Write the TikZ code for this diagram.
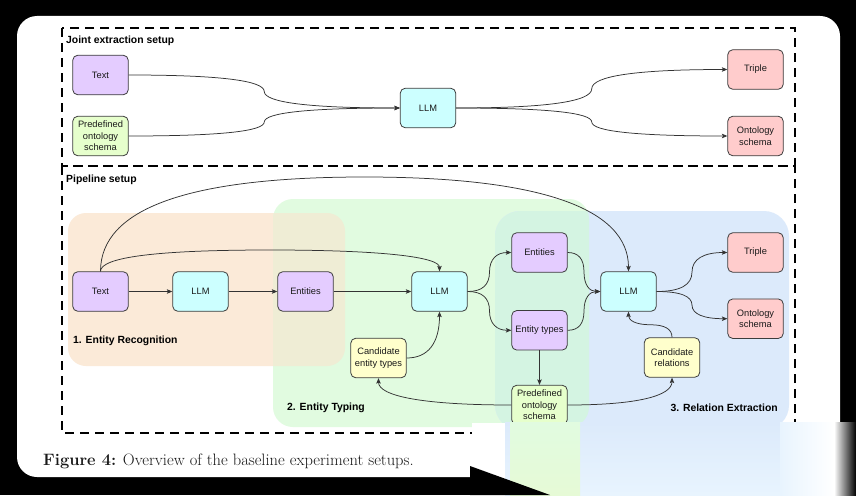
\documentclass[tikz,border=0pt]{standalone}
\usepackage{fontspec}
\newfontfamily\arial{Liberation Sans}
\usetikzlibrary{arrows.meta,calc}
\definecolor{purpF}{HTML}{E4CCFF}
\definecolor{cyanF}{HTML}{CCFFFF}
\definecolor{greenF}{HTML}{E6FFCC}
\definecolor{redF}{HTML}{FFCCCC}
\definecolor{yellF}{HTML}{FFFFCC}
\definecolor{bordC}{HTML}{3C3C3C}
\definecolor{lineC}{HTML}{333333}
\definecolor{textC}{HTML}{1A1A1A}
\definecolor{orangeR}{HTML}{FBEAD8}
\definecolor{greenR}{HTML}{E1FBE0}
\definecolor{blueR}{HTML}{DCEAFB}
\definecolor{ogR}{HTML}{EFEDD5}
\definecolor{gbR}{HTML}{D4F4E2}
\definecolor{smB}{HTML}{E8F4FE}
\definecolor{smG}{HTML}{E6FAD6}
\tikzset{
  box/.style={draw=bordC, line width=0.8pt, rounded corners=5pt, minimum width=55.5pt,
    minimum height=39.5pt, inner sep=1pt, align=center, text=textC,
    font={\arial\fontsize{9.3}{11.4}\selectfont}},
  purp/.style={box, fill=purpF},
  cyanb/.style={box, fill=cyanF},
  greenb/.style={box, fill=greenF},
  redb/.style={box, fill=redF},
  yellb/.style={box, fill=yellF},
  lbl/.style={inner sep=0pt, text=black, font={\arial\bfseries\fontsize{10.4}{12}\selectfont}},
  dashbox/.style={draw=black, line width=1.2pt, dash pattern=on 9pt off 6pt},
  conn/.style={draw=lineC, line width=0.75pt, -{Stealth[length=5.5pt,width=4.5pt,inset=1.2pt]}},
  hvh/.style={to path={let \p1=(\tikztostart), \p2=(\tikztotarget), \n1={(\x1+\x2)/2}, \n2={(\y1+\y2)/2} in
    .. controls ({\x1+2/3*(\n1-\x1)},\y1) and (\n1,{\n2+2/3*(\y1-\n2)}) .. (\n1,\n2)
    .. controls (\n1,{\n2+2/3*(\y2-\n2)}) and ({\x2+2/3*(\n1-\x2)},\y2) .. (\tikztotarget)}},
  vhv/.style={to path={let \p1=(\tikztostart), \p2=(\tikztotarget), \n1={(\x1+\x2)/2}, \n2={#1} in
    .. controls (\x1,{\y1+2/3*(\n2-\y1)}) and ({\n1+2/3*(\x1-\n1)},\n2) .. (\n1,\n2)
    .. controls ({\n1+2/3*(\x2-\n1)},\n2) and (\x2,{\y2+2/3*(\n2-\y2)}) .. (\tikztotarget)}},
  hv/.style={to path={let \p1=(\tikztostart), \p2=(\tikztotarget) in
    .. controls ({\x1+2/3*(\x2-\x1)},\y1) and (\x2,{\y2+2/3*(\y1-\y2)}) .. (\tikztotarget)}},
}
\begin{document}
\begin{tikzpicture}[x=1pt,y=1pt]
\useasboundingbox (0,0) rectangle (856,-495);
\fill[black] (0,0) rectangle (856,-495);
\fill[white, rounded corners=20pt] (17,-16) rectangle (840,-477);

% stage regions
\fill[orangeR, rounded corners=18pt] (68,-213) rectangle (345,-366);
\fill[greenR, rounded corners=20pt] (273,-199) rectangle (589,-427);
\fill[blueR, rounded corners=25pt] (495,-211) rectangle (789,-430);
\begin{scope}
  \clip[rounded corners=18pt] (68,-213) rectangle (345,-366);
  \fill[ogR, rounded corners=20pt] (273,-199) rectangle (589,-427);
\end{scope}
\begin{scope}
  \clip[rounded corners=20pt] (273,-199) rectangle (589,-427);
  \fill[gbR, rounded corners=25pt] (495,-211) rectangle (789,-430);
\end{scope}

% dashed frames
\draw[dashbox] (62,-28) rectangle (795,-166);
\draw[dashbox] (62,-166) rectangle (795,-433);

% labels
\node[lbl, anchor=west] (ljoint) at (66,-41) {Joint extraction setup};
\node[lbl, anchor=west] (lpipe) at (66,-180) {Pipeline setup};
\node[lbl, anchor=west] (ler) at (73,-341) {1. Entity Recognition};
\node[lbl, anchor=west] (let) at (287,-408) {2. Entity Typing};
\node[lbl, anchor=east] (lre) at (778,-408) {3. Relation Extraction};

% joint nodes
\node[purp] (jtext) at (100.5,-75) {Text};
\node[greenb] (jonto) at (100.5,-136) {Predefined\\ontology\\schema};
\node[cyanb] (jllm) at (428,-108) {LLM};
\node[redb] (jtriple) at (755.5,-69.5) {Triple};
\node[redb] (jos) at (755.5,-136) {Ontology\\schema};

% pipeline nodes
\node[purp] (ptext) at (100.5,-291.5) {Text};
\node[cyanb] (pllm1) at (200.5,-291.5) {LLM};
\node[purp] (pent1) at (305.5,-291.5) {Entities};
\node[cyanb] (pllm2) at (439.5,-291.5) {LLM};
\node[purp] (pent2) at (539.5,-252.5) {Entities};
\node[purp] (ptypes) at (539.5,-330.3) {Entity types};
\node[cyanb] (pllm3) at (628.5,-291.5) {LLM};
\node[redb] (ptriple) at (755.5,-252.5) {Triple};
\node[redb] (pos) at (755.5,-318.7) {Ontology\\schema};
\node[yellb] (pcrel) at (672,-357.5) {Candidate\\relations};
\node[greenb] (ponto) at (539.5,-405) {Predefined\\ontology\\schema};
\node[yellb] (pcet) at (378.5,-358) {Candidate\\entity types};

% joint connectors
\draw[conn, hvh] (jtext.east) to (jllm.west);
\draw[conn, hvh] (jonto.east) to (jllm.west);
\draw[conn, hvh] (jllm.east) to (jtriple.west);
\draw[conn, hvh] (jllm.east) to (jos.west);

% pipeline connectors
\draw[conn] (ptext.east) -- (pllm1.west);
\draw[conn] (pllm1.east) -- (pent1.west);
\draw[conn] (pent1.east) -- (pllm2.west);
\draw[conn, vhv=-250] (ptext.north) to (pllm2.north);
\draw[conn, vhv=-177] (ptext.north) to (pllm3.north);
\draw[conn, hvh] (pllm2.east) to (pent2.west);
\draw[conn, hvh] (pllm2.east) to (ptypes.west);
\draw[conn, hvh] (pent2.east) to (pllm3.west);
\draw[conn, hvh] (ptypes.east) to (pllm3.west);
\draw[conn, hvh] (pllm3.east) to (ptriple.west);
\draw[conn, hvh] (pllm3.east) to (pos.west);
\draw[conn] (ptypes.south) -- (ponto.north);
\draw[conn, hv] (ponto.west) to (pcet.south);
\draw[conn, hv] (ponto.east) to (pcrel.south);
\draw[conn, hv] (pcet.east) to (pllm2.south);
\draw[conn, vhv=-324.75] (pcrel.north) to (pllm3.south);

% caption
\node[anchor=base west, inner sep=0pt, text=black!90, font={\fontsize{16.5}{19}\selectfont}] (cap) at (43,-465)
  {\textbf{Figure 4:} Overview of the baseline experiment setups.};

% smeared lower-right corner of the source image
\fill[white] (472,-423) rectangle (838,-495);
\shade[top color=blueR, bottom color=smB] (505,-422) rectangle (790,-495);
\shade[top color=greenR, bottom color=smG] (510,-422) rectangle (580,-495);
\shade[left color=smB, right color=white] (780,-422) rectangle (834,-495);
\shade[left color=white, right color=black] (834,-422) rectangle (856,-495);
\fill[black] (470,-466) -- (550,-495) -- (470,-495) -- cycle;
\end{tikzpicture}
\end{document}
